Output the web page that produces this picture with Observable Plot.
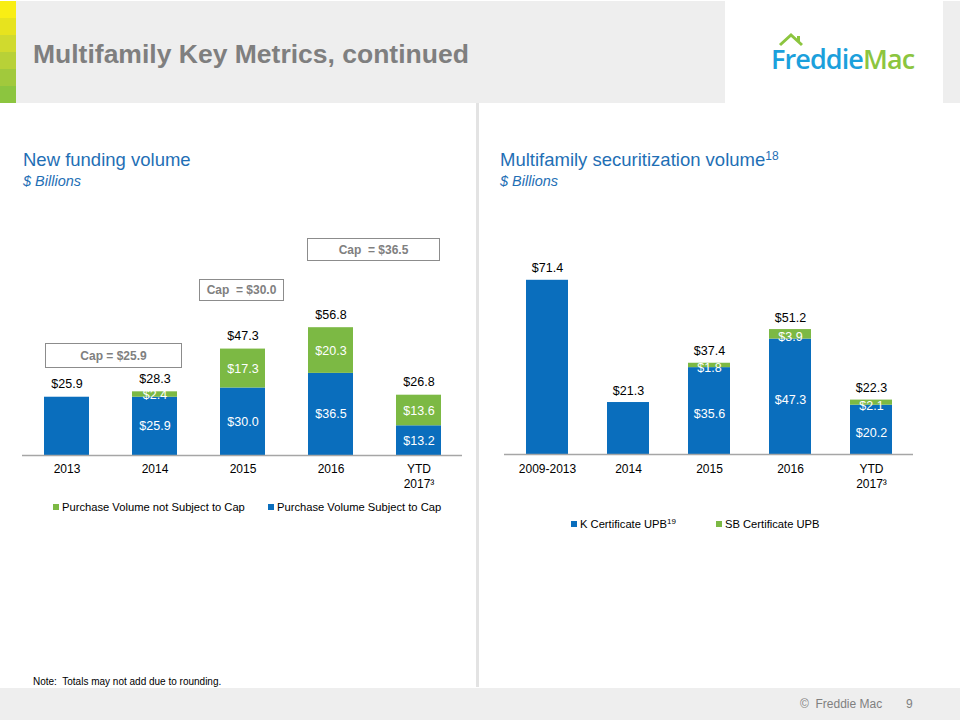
<!DOCTYPE html>
<html>
<head>
<meta charset="utf-8">
<script src="https://cdn.jsdelivr.net/npm/d3@7"></script>
<script src="https://cdn.jsdelivr.net/npm/@observablehq/plot@0.6"></script>
<style>
  html, body { margin:0; padding:0; background:#fff; }
  body { width:960px; height:720px; position:relative; overflow:hidden; font-family:"Liberation Sans", Arial, sans-serif; }
  .abs { position:absolute; }
  .stripe { position:absolute; left:0; width:16px; }
  .ctitle { position:absolute; color:#1f6fb5; font-size:18.5px; line-height:1; white-space:nowrap; }
  .csub { position:absolute; color:#1f6fb5; font-size:14.5px; font-style:italic; line-height:1; white-space:nowrap; }
  .capbox { position:absolute; border:1.5px solid #8c8c8c; box-sizing:border-box; color:#808080; font-weight:bold; font-size:12px; display:flex; align-items:center; justify-content:center; white-space:pre; background:#fff; }
  .legend { position:absolute; font-size:11.2px; color:#000; white-space:nowrap; line-height:1; }
  .legend .sw { display:inline-block; width:6px; height:6px; margin-right:3px; vertical-align:1px; }
</style>
</head>
<body>
<script>
// ---------- data ----------
const fundingYears = ["2013", "2014", "2015", "2016", "YTD 2017³"];
const fundingSubjectToCap = [25.9, 25.9, 30.0, 36.5, 13.2];
const fundingNotSubjectToCap = [0, 2.4, 17.3, 20.3, 13.6];
const fundingTotals = [25.9, 28.3, 47.3, 56.8, 26.8];
const capLabels = ["Cap = $25.9", "Cap  = $30.0", "Cap  = $36.5"];
const fundingSeries = ["Purchase Volume Subject to Cap", "Purchase Volume not Subject to Cap"];

const securitizationPeriods = ["2009-2013", "2014", "2015", "2016", "YTD 2017³"];
const kCertificateUPB = [71.4, 21.3, 35.6, 47.3, 20.2];
const sbCertificateUPB = [0, 0, 1.8, 3.9, 2.1];
const securitizationTotals = [71.4, 21.3, 37.4, 51.2, 22.3];
const securitizationSeries = ["K Certificate UPB", "SB Certificate UPB"];

// ---------- styles ----------
const BLUE = "#0a6ebd";
const GREEN = "#7cb944";
const FONT = "'Liberation Sans', Arial, sans-serif";
const fmt = v => "$" + v.toFixed(1);
const tickFmt = d => d.replace("YTD ", "YTD\n");

// ---------- page chrome ----------
const body = document.body;
function el(tag, cls, style, html) {
  const e = document.createElement(tag);
  if (cls) e.className = cls;
  if (style) e.style.cssText = style;
  if (html != null) e.innerHTML = html;
  body.appendChild(e);
  return e;
}
el("div", "abs", "left:0;top:1px;width:725px;height:102px;background:#eeeeee;");
el("div", "abs", "left:943px;top:1px;width:17px;height:102px;background:#eeeeee;");
const stripeColors = ["#f9ee14", "#e7e31e", "#d0da2e", "#b8d137", "#a1c93c", "#8cc53f"];
stripeColors.forEach((c, i) => el("div", "stripe", `top:${1 + i * 17}px;height:17px;background:${c};`));
el("div", "abs", "left:33px;top:41px;font-size:26.5px;font-weight:bold;color:#7f7f7f;line-height:1;white-space:nowrap;", "Multifamily Key Metrics, continued");
// logo: roof drawing + text
el("div", "abs", "left:725px;top:1px;width:218px;height:60px;", `
<svg width="218" height="60" xmlns="http://www.w3.org/2000/svg">
  <polyline points="55,44 66,34 77,44" fill="none" stroke="#8cc53f" stroke-width="3" stroke-linejoin="miter"/>
  <line x1="73.5" y1="35" x2="73.5" y2="41" stroke="#8cc53f" stroke-width="3"/>
</svg>`);
el("div", "abs", "left:771px;top:45px;font-family:'Open Sans',sans-serif;font-weight:600;font-size:27px;line-height:1;letter-spacing:-0.9px;white-space:nowrap;",
   "<span style='color:#1ba0dc'>Freddie</span><span style='color:#8cc53f'>Mac</span>");
// divider
el("div", "abs", "left:476px;top:103px;width:3px;height:584px;background:#e3e3e3;");
// footer
el("div", "abs", "left:0;top:688px;width:960px;height:32px;background:#eeeeee;");
el("div", "abs", "left:800px;top:698px;font-size:12px;color:#808080;line-height:1;", "©&nbsp; Freddie Mac");
el("div", "abs", "left:906px;top:698px;font-size:12px;color:#808080;line-height:1;", "9");
el("div", "abs", "left:33px;top:677px;font-size:10px;color:#000;line-height:1;font-family:'Liberation Sans Narrow','Arial Narrow','Liberation Sans',sans-serif;white-space:pre;", "Note:  Totals may not add due to rounding.");

// chart titles
el("div", "ctitle", "left:23px;top:151px;", "New funding volume");
el("div", "csub", "left:23px;top:174px;", "$ Billions");
el("div", "ctitle", "left:500px;top:151px;", "Multifamily securitization volume<sup style='font-size:12px;vertical-align:6px;line-height:0'>18</sup>");
el("div", "csub", "left:500px;top:174px;", "$ Billions");

// ---------- left chart ----------
const fundingRows = fundingYears.flatMap((c, i) => [
  {cat: c, series: fundingSeries[0], value: fundingSubjectToCap[i]},
  {cat: c, series: fundingSeries[1], value: fundingNotSubjectToCap[i]}
]);
const fundingLabelRows = fundingRows.filter(d => fundingNotSubjectToCap[fundingYears.indexOf(d.cat)] > 0);
const fundingTotalRows = fundingYears.map((c, i) => ({cat: c, total: fundingTotals[i]}));

const leftChart = Plot.plot({
  width: 460, height: 300,
  marginLeft: 2, marginRight: 18, marginTop: 30, marginBottom: 45,
  x: {domain: fundingYears, paddingInner: 0.49, paddingOuter: 0.245, axis: null, label: null},
  y: {domain: [0, 100], axis: null, label: null},
  color: {domain: fundingSeries, range: [BLUE, GREEN]},
  style: {fontFamily: FONT, background: "transparent", overflow: "visible"},
  marks: [
    Plot.barY(fundingRows, {x: "cat", y: "value", fill: "series"}),
    Plot.ruleY([0], {stroke: "#a6a6a6", strokeWidth: 1.5}),
    Plot.axisX({tickSize: 0, tickPadding: 8, fontSize: 12, fill: "#000", lineHeight: 1.17, tickFormat: tickFmt, label: null}),
    Plot.text(fundingLabelRows, Plot.stackY({x: "cat", y: "value", z: "series", text: d => fmt(d.value), fill: "#fff", fontSize: 12.5})),
    Plot.text(fundingTotalRows, {x: "cat", y: "total", text: d => fmt(d.total), dy: -13, fontSize: 12.5, fill: "#000"})
  ]
});
leftChart.style.position = "absolute";
leftChart.style.left = "20px";
leftChart.style.top = "200px";
body.appendChild(leftChart);

// cap annotation boxes
const capBoxStyles = [
  "left:45px;top:343px;width:137px;height:25px;",
  "left:199px;top:279px;width:85px;height:22px;",
  "left:307px;top:238px;width:133px;height:23px;"
];
capLabels.forEach((t, i) => el("div", "capbox", capBoxStyles[i], t));

// left legend
el("div", "legend", "left:53px;top:502px;", `<span class="sw" style="background:${GREEN}"></span>${fundingSeries[1]}`);
el("div", "legend", "left:268px;top:502px;", `<span class="sw" style="background:${BLUE}"></span>${fundingSeries[0]}`);

// ---------- right chart ----------
const secRows = securitizationPeriods.flatMap((c, i) => [
  {cat: c, series: securitizationSeries[0], value: kCertificateUPB[i]},
  {cat: c, series: securitizationSeries[1], value: sbCertificateUPB[i]}
]);
const secLabelRows = secRows.filter(d => sbCertificateUPB[securitizationPeriods.indexOf(d.cat)] > 0);
const secTotalRows = securitizationPeriods.map((c, i) => ({cat: c, total: securitizationTotals[i]}));

const rightChart = Plot.plot({
  width: 440, height: 300,
  marginLeft: 14, marginRight: 17, marginTop: 34.4, marginBottom: 46,
  x: {domain: securitizationPeriods, paddingInner: 0.486, paddingOuter: 0.243, axis: null, label: null},
  y: {domain: [0, 90], axis: null, label: null},
  color: {domain: securitizationSeries, range: [BLUE, GREEN]},
  style: {fontFamily: FONT, background: "transparent", overflow: "visible"},
  marks: [
    Plot.barY(secRows, {x: "cat", y: "value", fill: "series"}),
    Plot.ruleY([0], {stroke: "#a6a6a6", strokeWidth: 1.5}),
    Plot.axisX({tickSize: 0, tickPadding: 9, fontSize: 12, fill: "#000", lineHeight: 1.17, tickFormat: tickFmt, label: null}),
    Plot.text(secLabelRows, Plot.stackY({x: "cat", y: "value", z: "series", text: d => fmt(d.value), fill: "#fff", fontSize: 12.5, dy: 3})),
    Plot.text(secTotalRows, {x: "cat", y: "total", text: d => fmt(d.total), dy: -12, fontSize: 12.5, fill: "#000"})
  ]
});
rightChart.style.position = "absolute";
rightChart.style.left = "490px";
rightChart.style.top = "200px";
body.appendChild(rightChart);

// right legend
el("div", "legend", "left:571px;top:519px;", `<span class="sw" style="background:${BLUE}"></span>${securitizationSeries[0]}<sup style="font-size:8px;vertical-align:4px;line-height:0">19</sup>`);
el("div", "legend", "left:716px;top:519px;", `<span class="sw" style="background:${GREEN}"></span>${securitizationSeries[1]}`);
</script>
</body>
</html>
